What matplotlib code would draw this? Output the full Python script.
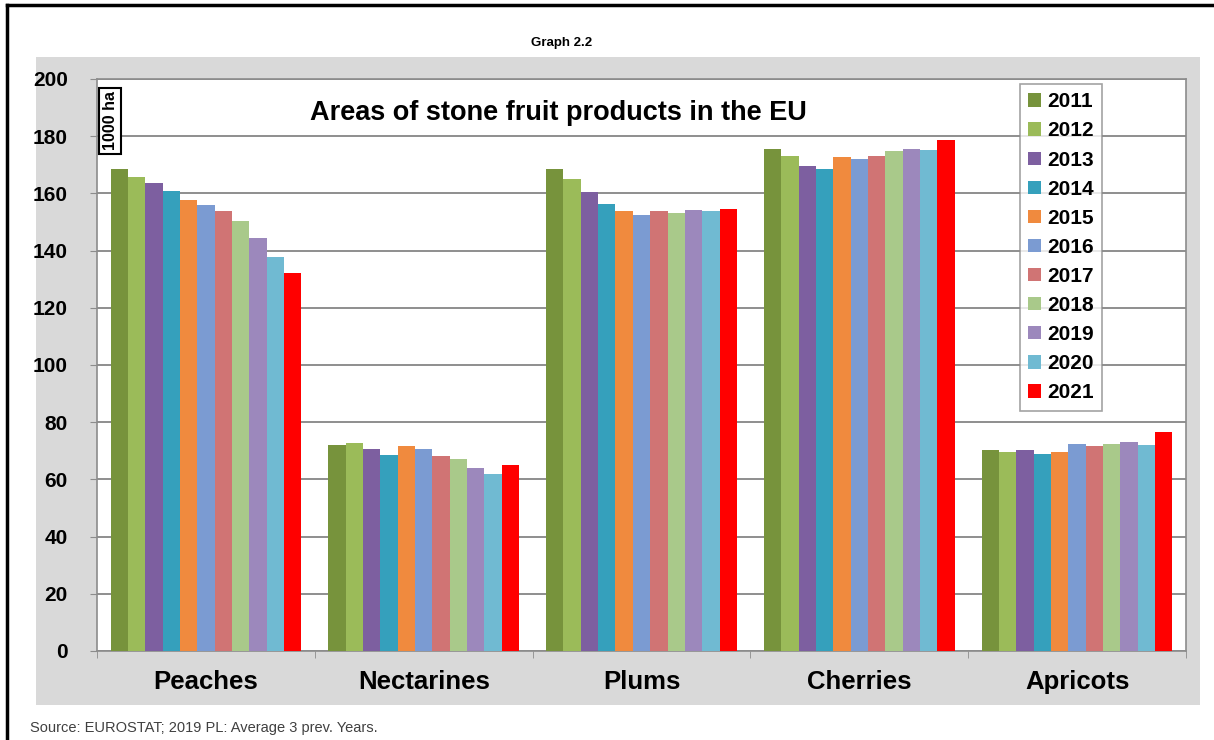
import matplotlib.pyplot as plt
import numpy as np

plt.rcParams['font.family'] = ['Liberation Sans', 'DejaVu Sans']

fruits = ['Peaches', 'Nectarines', 'Plums', 'Cherries', 'Apricots']
years = ['2011', '2012', '2013', '2014', '2015', '2016',
         '2017', '2018', '2019', '2020', '2021']

# areas in 1000 ha, one list per fruit, years 2011..2021
peaches = [168.4, 165.6, 163.8, 160.9, 157.6, 156.1, 153.8, 150.5, 144.5, 137.7, 132.1]
nectarines = [71.9, 72.6, 70.7, 68.7, 71.7, 70.6, 68.2, 67.2, 63.9, 61.8, 65.0]
plums = [168.5, 165.1, 160.6, 156.4, 153.9, 152.4, 153.7, 153.2, 154.1, 153.9, 154.4]
cherries = [175.6, 173.2, 169.7, 168.7, 172.8, 172.1, 173.2, 175.0, 175.6, 175.1, 178.5]
apricots = [70.4, 69.7, 70.3, 68.9, 69.5, 72.3, 71.8, 72.3, 73.0, 72.1, 76.5]

colors = ['#77933C', '#9BBB59', '#7D5FA0', '#35A0BC', '#F08A3E', '#7B9BD2',
          '#D07474', '#A9C98A', '#9C88BC', '#70BAD2', '#FF0000']

data = np.array([peaches, nectarines, plums, cherries, apricots])

W, H = 1214, 740
fig = plt.figure(figsize=(W / 100, H / 100), dpi=100)
fig.patch.set_facecolor('white')

# grey chart area + black frame
bg = fig.add_axes([36 / W, 1 - 705 / H, 1164 / W, 648 / H], zorder=-5)
bg.set_facecolor('#D9D9D9')
bg.set_xticks([])
bg.set_yticks([])
for s in bg.spines.values():
    s.set_visible(False)
fig.add_artist(plt.Line2D([7 / W, 7 / W], [0, 1 - 5 / H], color='black', lw=2.5))
fig.add_artist(plt.Line2D([7 / W, 1], [1 - 5 / H, 1 - 5 / H], color='black', lw=2.5))

ax = fig.add_axes([97 / W, 1 - 651 / H, (1186 - 97) / W, (651 - 79) / H])
ax.set_facecolor('white')

n = len(years)
w = 0.876 / n
x = np.arange(len(fruits))
for j in range(n):
    ax.bar(x + (j - (n - 1) / 2) * w, data[:, j], width=w, color=colors[j],
           label=years[j], zorder=3)

ax.set_xlim(-0.5, len(fruits) - 0.5)
ax.set_ylim(0, 200)
ax.set_yticks(range(0, 201, 20))
ax.yaxis.grid(True, color='#868686', lw=1.3, zorder=0)
for s in ax.spines.values():
    s.set_color('#8C8C8C')
    s.set_linewidth(1.2)

ax.set_xticks(x)
ax.set_xticklabels(fruits, fontsize=18.5, fontweight='bold')
ax.set_xticks(np.arange(-0.5, len(fruits)), minor=True)
ax.tick_params(axis='x', which='major', length=0, pad=14)
ax.tick_params(axis='x', which='minor', length=5, color='#8C8C8C', direction='out')
ax.tick_params(axis='y', length=5, color='#8C8C8C', pad=16, labelsize=15)
for t in ax.get_yticklabels():
    t.set_fontweight('bold')

ax.text(0.424, 0.94, 'Areas of stone fruit products in the EU', transform=ax.transAxes,
        ha='center', va='center', fontsize=19.5, fontweight='bold')
ax.text(0.012, 0.927, '1000 ha', transform=ax.transAxes, rotation=90,
        ha='center', va='center', fontsize=11.5, fontweight='bold',
        bbox=dict(boxstyle='square,pad=0.22', facecolor='white', edgecolor='black', lw=1.5))

leg = ax.legend(loc='upper left', bbox_to_anchor=((1020 - 97) / 1089, 1 - 5 / 572),
                prop={'size': 15, 'weight': 'bold'}, handlelength=0.6, handleheight=0.6,
                handletextpad=0.3, labelspacing=0.485, borderpad=0.4, frameon=True,
                fancybox=False, edgecolor='#8C8C8C', borderaxespad=0)
leg.get_frame().set_linewidth(1.2)

fig.text(562 / W, 1 - 43 / H, 'Graph 2.2', ha='center', va='center', fontsize=9.5,
         fontweight='bold')
fig.text(30 / W, 1 - 728 / H, 'Source: EUROSTAT; 2019 PL: Average 3 prev. Years.',
         ha='left', va='center', fontsize=10.5, color='#404040')

fig.savefig('out.png', dpi=100)
